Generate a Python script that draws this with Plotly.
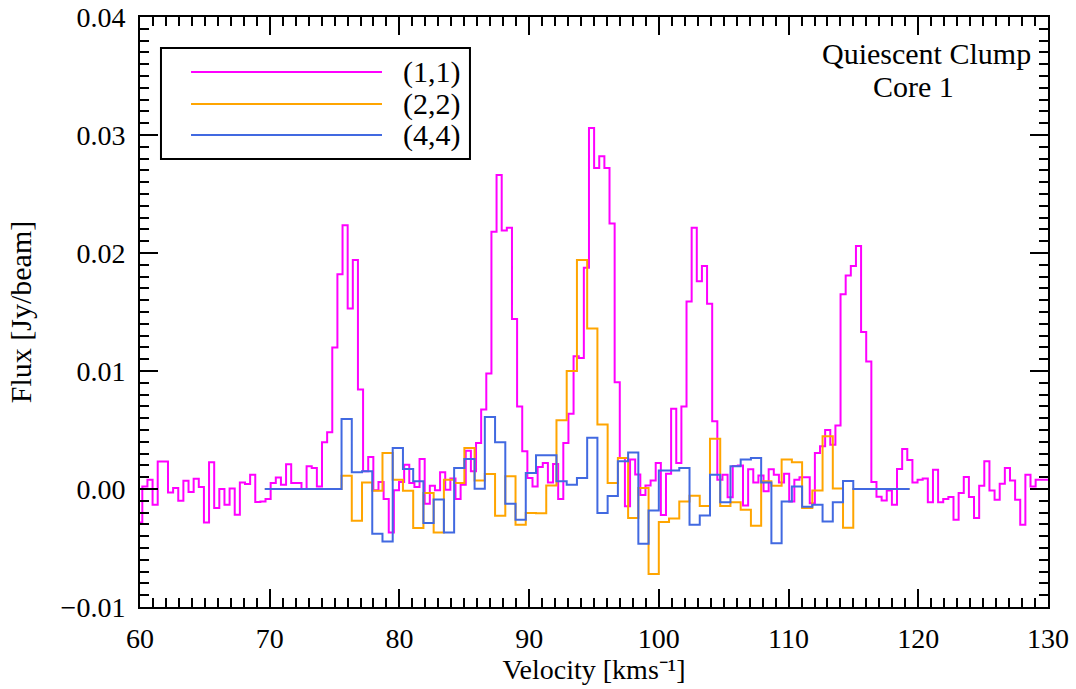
import numpy as np
import plotly.graph_objects as go

# ---------------------------------------------------------------
# NH3 spectra towards the quiescent clump, core 1 (fluxes in mJy/beam)
# ---------------------------------------------------------------

# (1,1): first channel centre and channel width [km/s]
v11_first = 59.98
dv11 = 0.3958
flux11_mjy = [
    -2.83, 0.22, 0.79, -1.33, 2.32, 2.32, -0.29, 0.08, -0.99, 0.70,
    -0.26, 0.87, 0.16, -2.83, 2.26, -1.62, 0.00, -1.33, 0.05, -2.18,
    0.56, 0.42, 1.21, -1.10, -1.05, -0.85, 0.50, 0.98, 0.36, 2.09,
    0.50, 0.50, 0.00, 1.92, 1.78, 0.22, 3.96, 4.80, 12.0, 18.2,
    22.35, 15.3, 19.4, 8.43, 1.50, 2.71, -0.11, 0.59, -0.85, -3.68,
    -0.10, 0.59, 2.06, 0.51, 0.17, 2.55, -1.25, 0.28, -0.11, 1.41,
    -0.07, 0.88, -0.85, 0.37, 3.25, 1.50, 3.90, 6.73, 9.79, 21.8,
    26.6, 21.9, 22.15, 14.4, 7.00, 3.19, 0.93, 0.22, 1.87, 2.21,
    0.56, 2.12, -0.85, 3.90, 6.37, 11.26, 11.1, 18.76, 30.6, 27.2,
    28.2, 27.2, 22.5, 9.05, 2.63, -1.47, 2.49, 1.22, -0.50, 0.30,
    0.71, 2.21, -2.20, 1.30, 6.80, 2.20, 7.00, 15.9, 22.15, 17.6,
    18.9, 15.7, 5.74, 0.79, 1.21, -0.70, 1.95, 2.00, -1.40, 1.67,
    0.56, 1.15, -0.20, 1.67, 1.20, 0.56, 1.30, -1.05, 0.79, 1.00,
    1.00, -1.20, 3.05, 3.62, 5.00, 3.76, 5.38, 16.5, 18.1, 18.9,
    20.6, 13.3, 10.8, 0.60, -0.65, -0.97, -0.13, -1.33, 1.69, 3.39,
    2.45, 0.56, 0.79, 0.88, -1.13, 1.64, -1.13, -0.85, -0.68, -2.60,
    -0.34, 1.02, -0.68, -2.46, 0.28, 2.35, -0.12, -0.91, 0.45, 1.78,
    0.73, -0.91, -3.03, 1.21, 0.22, 0.79, 0.79, 0.79,
]

# (2,2) and (4,4): coarser common velocity grid
v_hi_first = 69.62
dv_hi = 0.789
flux22_mjy = [
    0.00, 0.00, 0.00, 0.00, 0.00, 0.00, 0.00, 0.00, 1.13, -2.69,
    0.56, -0.15, 3.05, 0.79, -0.15, -3.31, -0.34, -3.68, 0.79, 0.50,
    3.48, 0.73, 1.27, -2.27, 1.07, -3.03, -2.04, -2.05, 0.30, 5.82,
    10.0, 19.4, 13.6, 5.46, 0.50, 2.63, -2.46, 0.08, -7.20, -2.80,
    -2.50, -1.05, -0.57, -1.45, 4.25, -1.45, -1.13, -1.76, -3.11, 0.65,
    0.28, 2.49, 2.26, -1.60, -0.12, 4.47, 0.05, -3.28, 0.00, 0.00,
    0.00, 0.00, 0.00, 0.00,
]
flux44_mjy = [
    0.00, 0.00, 0.00, 0.00, 0.00, 0.00, 0.00, 0.00, 5.94, 1.41,
    1.50, -3.79, -4.45, 3.48, 1.69, 0.65, -2.89, -0.90, -3.68, 1.78,
    2.55, 0.02, 6.10, 3.96, -1.25, -2.60, 1.36, 2.85, 2.85, 0.65,
    0.37, 0.93, 4.35, -2.04, -0.60, 2.35, 3.10, -4.65, -1.82, 1.57,
    1.57, 1.78, -3.02, -2.25, 1.20, -1.13, 1.92, 2.49, 2.62, 0.56,
    -4.59, -1.05, 0.22, -1.50, -1.33, -2.75, -1.13, 0.68, 0.00, 0.00,
    0.00, 0.00, 0.00, 0.00,
]

labels = ["(1,1)", "(2,2)", "(4,4)"]
colors = ["#FF00FF", "#FFA500", "#4169E1"]

x_ticks = [60, 70, 80, 90, 100, 110, 120, 130]
y_ticks = [-0.01, 0.00, 0.01, 0.02, 0.03, 0.04]

FONT = "Liberation Serif, Times New Roman, serif"

v11 = v11_first + dv11 * np.arange(len(flux11_mjy))
v_hi = v_hi_first + dv_hi * np.arange(len(flux22_mjy))

series = [
    (v11, np.array(flux11_mjy) / 1000.0),
    (v_hi, np.array(flux22_mjy) / 1000.0),
    (v_hi, np.array(flux44_mjy) / 1000.0),
]

fig = go.Figure()
for (vx, fy), name, col in zip(series, labels, colors):
    fig.add_trace(go.Scatter(
        x=vx, y=fy, name=name, mode="lines",
        line=dict(color=col, width=2, shape="hvh"),
        showlegend=False,
    ))

axis_common = dict(
    ticks="inside", ticklen=18, tickwidth=2, tickcolor="black",
    showline=True, linewidth=2, linecolor="black", mirror="ticks",
    showgrid=False, zeroline=False,
    tickfont=dict(family=FONT, size=28, color="black"),
)

fig.update_xaxes(
    range=[60, 130], tickvals=x_ticks,
    minor=dict(dtick=1, ticklen=9, tickwidth=2, tickcolor="black",
               ticks="inside", showgrid=False),
    title=dict(text="Velocity [kms\u207b\u00b9]",
               font=dict(family=FONT, size=28, color="black"), standoff=1),
    ticklabelstandoff=5,
    **axis_common,
)
fig.update_yaxes(
    range=[-0.01, 0.04], tickvals=y_ticks, tickformat=".2f",
    minor=dict(dtick=0.001, ticklen=9, tickwidth=2, tickcolor="black",
               ticks="inside", showgrid=False),
    title=dict(text="Flux [Jy/beam]",
               font=dict(family=FONT, size=30, color="black"), standoff=20),
    ticklabelstandoff=7,
    **axis_common,
)

# Legend box drawn in paper coordinates
box = dict(x0=0.0231, x1=0.3634, y0=0.7593, y1=0.9475)
row_y = [0.9068, 0.8525, 0.8000]
shapes = [dict(type="rect", xref="paper", yref="paper", **box,
               line=dict(color="black", width=2), fillcolor="white", layer="above")]
annotations = []
for name, col, yy in zip(labels, colors, row_y):
    shapes.append(dict(type="line", xref="paper", yref="paper",
                       x0=0.0562, x1=0.2665, y0=yy, y1=yy,
                       line=dict(color=col, width=2), layer="above"))
    annotations.append(dict(xref="paper", yref="paper", x=0.2875, y=yy,
                            xanchor="left", yanchor="middle", showarrow=False,
                            text=name, font=dict(family=FONT, size=30, color="black")))

annotations.append(dict(xref="paper", yref="paper", x=0.8665, y=0.9373,
                        xanchor="center", yanchor="middle", showarrow=False,
                        text="Quiescent Clump",
                        font=dict(family=FONT, size=30, color="black")))
annotations.append(dict(xref="paper", yref="paper", x=0.8520, y=0.8830,
                        xanchor="center", yanchor="middle", showarrow=False,
                        text="Core 1",
                        font=dict(family=FONT, size=30, color="black")))

fig.update_layout(
    width=1076, height=689,
    margin=dict(l=140, r=28, t=17, b=82, autoexpand=False),
    paper_bgcolor="white", plot_bgcolor="white",
    font=dict(family=FONT, size=28, color="black"),
    showlegend=False,
    shapes=shapes, annotations=annotations,
)

fig.write_html("out.html")
